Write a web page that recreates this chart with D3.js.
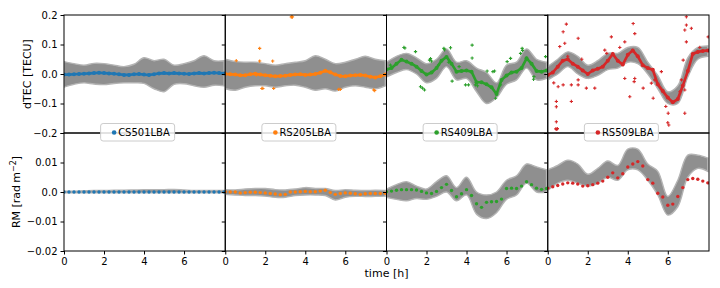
<!DOCTYPE html>
<html>
<head>
<meta charset="utf-8">
<script src="https://cdn.jsdelivr.net/npm/d3@7"></script>
<style>
  html, body { margin: 0; padding: 0; background: #fff; }
  svg { display: block; font-family: "DejaVu Sans", sans-serif; }
</style>
</head>
<body>
<div class="ChartWrapper"></div>
<script>
// stations, one column each
const stations = ['CS501LBA', 'RS205LBA', 'RS409LBA', 'RS509LBA'];
const colors = ['#1f77b4', '#ff7f0e', '#2ca02c', '#d62728'];

// time grids [h]
const trackHours = [0, 0.25, 0.5, 0.75, 1, 1.25, 1.5, 1.75, 2, 2.25, 2.5, 2.75, 3, 3.25, 3.5, 3.75, 4,
  4.25, 4.5, 4.75, 5, 5.25, 5.5, 5.75, 6, 6.25, 6.5, 6.75, 7, 7.25, 7.5, 7.75, 8];
const envHours = [0, 0.5, 1, 1.5, 2, 2.5, 3, 3.5, 4, 4.5, 5, 5.5, 6, 6.5, 7, 7.5, 8];

// dTEC solutions [TECU]
const dtecCS501 = [-0.002, -0.002, -0.001, 0.000, 0.001, 0.002, 0.003, 0.004, 0.003, 0.002, 0.001, -0.001, -0.003, -0.003, -0.001, 0.000, -0.002,
  -0.003, -0.001, 0.002, 0.003, 0.002, 0.003, 0.002, 0.001, 0.000, 0.002, 0.003, 0.002, 0.003, 0.004, 0.003, 0.002];
const dtecRS205 = [0.000, -0.001, -0.002, -0.004, -0.004, -0.001, 0.001, -0.002, -0.004, -0.006, -0.008, -0.007, -0.006, -0.003, -0.002, -0.001, -0.003,
  -0.002, 0.000, 0.004, 0.011, 0.006, -0.002, -0.007, -0.008, -0.005, -0.004, -0.003, -0.005, -0.009, -0.012, -0.008, -0.002];
const dtecRS409 = [0.015, 0.020, 0.035, 0.048, 0.042, 0.035, 0.025, 0.010, -0.002, 0.005, 0.020, 0.045, 0.058, 0.035, 0.008, 0.010, 0.012,
  0.008, -0.028, -0.028, -0.035, -0.045, -0.068, -0.020, -0.005, 0.005, 0.008, 0.020, 0.053, 0.035, 0.010, 0.008, 0.012];
const dtecRS509 = [-0.003, 0.005, 0.025, 0.045, 0.050, 0.035, 0.025, 0.012, 0.000, 0.012, 0.018, 0.025, 0.045, 0.068, 0.045, 0.032, 0.065,
  0.080, 0.060, 0.030, 0.020, 0.014, -0.035, -0.058, -0.080, -0.096, -0.085, -0.040, 0.010, 0.068, 0.075, 0.078, 0.080];

// RM solutions [rad m^-2]
const rmCS501 = [0.0000, 0.0000, 0.0000, 0.0000, 0.0000, 0.0000, 0.0000, 0.0000, 0.0000, 0.0000, 0.0000, 0.0000, 0.0000, 0.0000, 0.0000, 0.0000, 0.0000,
  0.0000, 0.0000, 0.0000, 0.0000, 0.0000, 0.0000, 0.0000, 0.0000, 0.0000, 0.0000, 0.0000, 0.0000, 0.0000, 0.0000, 0.0000, 0.0000];
const rmRS205 = [0.0001, 0.0000, 0.0000, -0.0003, -0.0002, -0.0001, -0.0001, -0.0002, -0.0003, -0.0005, -0.0007, -0.0009, -0.0008, 0.0000, 0.0000, 0.0001, 0.0002,
  0.0001, 0.0001, 0.0003, 0.0006, -0.0002, -0.0008, -0.0005, -0.0003, -0.0004, -0.0006, -0.0008, -0.0006, -0.0005, -0.0005, -0.0005, -0.0004];
const rmRS409 = [0.0001, 0.0003, 0.0006, 0.0008, 0.0008, 0.0008, 0.0007, 0.0002, -0.0003, -0.0005, 0.0002, 0.0015, 0.0026, 0.0005, -0.0016, -0.0006, 0.0008,
  -0.0012, -0.0040, -0.0052, -0.0035, -0.0033, -0.0032, -0.0024, 0.0012, 0.0013, 0.0012, 0.0020, 0.0035, 0.0025, 0.0013, 0.0009, 0.0012];
const rmRS509 = [0.0013, 0.0018, 0.0022, 0.0027, 0.0031, 0.0030, 0.0027, 0.0020, 0.0021, 0.0025, 0.0030, 0.0037, 0.0050, 0.0065, 0.0048, 0.0062, 0.0085,
  0.0095, 0.0103, 0.0088, 0.0042, 0.0030, -0.0004, -0.0017, -0.0045, -0.0041, -0.0015, 0.0015, 0.0042, 0.0046, 0.0043, 0.0037, 0.0031];

// spread of the grey realisations (upper / lower envelope)
const dtecHi = [
  [0.042, 0.035, 0.030, 0.036, 0.035, 0.030, 0.025, 0.033, 0.055, 0.045, 0.050, 0.030, 0.035, 0.045, 0.062, 0.045, 0.045],
  [0.050, 0.042, 0.040, 0.040, 0.035, 0.030, 0.035, 0.040, 0.045, 0.062, 0.050, 0.035, 0.040, 0.050, 0.060, 0.050, 0.045],
  [0.040, 0.060, 0.070, 0.055, 0.035, 0.050, 0.085, 0.040, 0.045, 0.020, 0.005, -0.030, 0.030, 0.040, 0.085, 0.050, 0.040],
  [0.025, 0.050, 0.075, 0.060, 0.030, 0.045, 0.070, 0.070, 0.090, 0.090, 0.040, -0.005, -0.060, -0.040, 0.055, 0.090, 0.095],
];
const dtecLo = [
  [-0.044, -0.035, -0.030, -0.034, -0.036, -0.032, -0.030, -0.030, -0.032, -0.050, -0.060, -0.035, -0.033, -0.040, -0.045, -0.038, -0.040],
  [-0.050, -0.055, -0.045, -0.040, -0.040, -0.045, -0.040, -0.038, -0.045, -0.055, -0.050, -0.058, -0.045, -0.040, -0.045, -0.050, -0.040],
  [-0.010, 0.005, 0.015, 0.000, -0.030, -0.015, 0.025, -0.020, -0.015, -0.060, -0.100, -0.080, -0.035, -0.020, 0.020, -0.020, -0.015],
  [-0.020, 0.000, 0.025, 0.000, -0.015, -0.005, 0.015, 0.020, 0.040, 0.035, 0.000, -0.050, -0.100, -0.100, -0.010, 0.050, 0.060],
];
const rmHi = [
  [0.0003, 0.0003, 0.0004, 0.0005, 0.0005, 0.0006, 0.0006, 0.0007, 0.0008, 0.0008, 0.0008, 0.0009, 0.0007, 0.0005, 0.0005, 0.0005, 0.0005],
  [0.0008, 0.0007, 0.0010, 0.0012, 0.0012, 0.0008, 0.0007, 0.0010, 0.0015, 0.0012, 0.0012, 0.0005, 0.0008, 0.0006, 0.0005, 0.0006, 0.0005],
  [0.0010, 0.0025, 0.0035, 0.0020, 0.0010, 0.0035, 0.0055, 0.0015, 0.0050, 0.0000, -0.0010, 0.0000, 0.0040, 0.0055, 0.0095, 0.0085, 0.0075],
  [0.0075, 0.0090, 0.0108, 0.0095, 0.0060, 0.0080, 0.0105, 0.0090, 0.0145, 0.0145, 0.0095, 0.0070, -0.0015, 0.0040, 0.0125, 0.0125, 0.0115],
];
const rmLo = [
  [-0.0003, -0.0003, -0.0003, -0.0003, -0.0003, -0.0003, -0.0003, -0.0003, -0.0003, -0.0003, -0.0003, -0.0003, -0.0003, -0.0003, -0.0003, -0.0003, -0.0003],
  [-0.0008, -0.0010, -0.0012, -0.0012, -0.0014, -0.0018, -0.0018, -0.0012, -0.0010, -0.0010, -0.0012, -0.0027, -0.0018, -0.0015, -0.0015, -0.0015, -0.0014],
  [-0.0018, -0.0025, -0.0030, -0.0022, -0.0025, -0.0015, 0.0000, -0.0030, -0.0010, -0.0075, -0.0090, -0.0070, -0.0025, -0.0010, 0.0030, 0.0000, 0.0000],
  [0.0005, 0.0030, 0.0040, 0.0030, 0.0020, 0.0030, 0.0050, 0.0040, 0.0075, 0.0075, 0.0040, -0.0010, -0.0078, -0.0050, 0.0050, 0.0080, 0.0070],
];

// dTEC outliers [hour, TECU]
const outRS205 = [[3.33, 0.195], [3.30, 0.193], [3.36, 0.193], [1.72, 0.087], [0.55, 0.045], [1.72, 0.044], [2.37, 0.044],
  [1.83, -0.049], [1.88, -0.049], [2.42, -0.049], [5.67, -0.052], [5.75, -0.052], [7.42, -0.054], [7.47, -0.056], [1.55, -0.004]];
const outRS409 = [[0.87, 0.090], [0.92, 0.088], [1.45, 0.076], [2.15, 0.047], [2.20, 0.052], [2.25, 0.044], [2.87, 0.087], [2.90, 0.082],
  [3.20, 0.089], [4.28, 0.098], [4.28, 0.054], [3.63, 0.025], [3.28, -0.024], [1.70, -0.043], [1.80, -0.048], [1.90, -0.054],
  [3.95, -0.037], [4.10, -0.037], [5.03, 0.010], [5.32, 0.008], [5.40, 0.010], [6.03, 0.042], [6.20, 0.053], [6.70, 0.070],
  [6.78, 0.087], [6.80, 0.080], [7.37, -0.009], [7.35, -0.018], [7.95, 0.059], [5.70, -0.037], [4.45, -0.037], [4.55, -0.040],
  [5.45, -0.082], [2.60, 0.030], [0.20, 0.030], [3.10, 0.040]];
const outRS509 = [[0.93, 0.169], [0.77, 0.143], [0.85, 0.104], [0.60, 0.093], [1.52, 0.121], [4.27, 0.171], [4.35, 0.137],
  [3.18, 0.126], [3.85, 0.109], [0.43, -0.093], [0.43, -0.111], [0.43, -0.162], [0.40, -0.186], [0.45, -0.188], [0.48, -0.185],
  [0.52, -0.043], [0.77, -0.037], [1.18, -0.037], [1.18, -0.093], [1.52, -0.037], [1.93, -0.048], [2.35, -0.048], [1.52, -0.020],
  [3.85, -0.015], [4.35, -0.015], [4.32, -0.026], [4.10, -0.077], [4.77, -0.048], [5.18, -0.031], [5.27, -0.082], [5.35, -0.020],
  [5.68, 0.008], [6.02, -0.133], [6.00, -0.165], [6.05, -0.173], [6.85, -0.133], [6.93, 0.194], [6.93, 0.166], [6.85, 0.149],
  [6.93, 0.109], [7.18, 0.155], [6.77, 0.047], [6.68, -0.020], [6.85, -0.054], [8.02, 0.126], [2.85, 0.081], [2.95, 0.070],
  [0.30, -0.030], [1.00, 0.060], [3.60, 0.090], [5.90, -0.110], [6.60, -0.060], [7.60, 0.090], [1.70, 0.050]];

const dtecTracks = [dtecCS501, dtecRS205, dtecRS409, dtecRS509];
const rmTracks = [rmCS501, rmRS205, rmRS409, rmRS509];
const dtecOutliers = [[], outRS205, outRS409, outRS509];

const dtecTicks = [-0.2, -0.1, 0.0, 0.1, 0.2];
const rmTicks = [-0.02, -0.01, 0.0, 0.01, 0.02];
const hourTicks = [0, 2, 4, 6];

const CHART = {
  width: 720,
  height: 288,
  left: 64,
  top: 15,
  panelW: 161.25,
  rowH: 118,
  xMax: 8.06,
  grey: '#868686',
};

const svg = d3.select('.ChartWrapper')
  .append('svg')
  .attr('width', CHART.width)
  .attr('height', CHART.height);

const yTop = d3.scaleLinear().domain([-0.2, 0.2]).range([CHART.top + CHART.rowH, CHART.top]);
const yBot = d3.scaleLinear().domain([-0.02, 0.02]).range([CHART.top + 2 * CHART.rowH, CHART.top + CHART.rowH]);

const rows = [
  { y: yTop, tracks: dtecTracks, hi: dtecHi, lo: dtecLo, ticks: dtecTicks, line: true },
  { y: yBot, tracks: rmTracks, hi: rmHi, lo: rmLo, ticks: rmTicks, line: false },
];

const defs = svg.append('defs');
const fmtTop = v => (v === 0 ? '0.0' : d3.format('.1f')(v));
const fmtBot = v => (v === 0 ? '0.0' : d3.format('.2f')(v));

rows.forEach((row, r) => {
  stations.forEach((name, c) => {
    const x0 = CHART.left + c * CHART.panelW;
    const x = d3.scaleLinear().domain([0, CHART.xMax]).range([x0, x0 + CHART.panelW]);
    const y = row.y;
    const clipId = `clip-${r}-${c}`;
    defs.append('clipPath').attr('id', clipId)
      .append('rect')
      .attr('x', x0).attr('y', y.range()[1])
      .attr('width', CHART.panelW).attr('height', CHART.rowH);

    const g = svg.append('g').attr('clip-path', `url(#${clipId})`);

    // grey realisations
    const area = d3.area()
      .x((d, i) => x(envHours[i]))
      .y0(d => y(d[0]))
      .y1(d => y(d[1]))
      .curve(d3.curveCatmullRom.alpha(0.5));
    g.append('path')
      .datum(row.lo[c].map((v, i) => [v, row.hi[c][i]]))
      .attr('d', area)
      .attr('fill', CHART.grey)
      .attr('fill-opacity', 0.92)
      .attr('stroke', '#b4b4b4')
      .attr('stroke-width', 1.4);

    const track = row.tracks[c];
    if (row.line) {
      g.append('path')
        .datum(track)
        .attr('d', d3.line().x((d, i) => x(trackHours[i])).y(d => y(d)))
        .attr('fill', 'none')
        .attr('stroke', colors[c])
        .attr('stroke-width', 2.6);
    }
    g.selectAll('circle.pt')
      .data(track)
      .enter()
      .append('circle')
      .classed('pt', true)
      .attr('cx', (d, i) => x(trackHours[i]))
      .attr('cy', d => y(d))
      .attr('r', row.line ? 2 : 1.7)
      .attr('fill', colors[c]);

    if (r === 0) {
      g.selectAll('path.out')
        .data(dtecOutliers[c])
        .enter()
        .append('path')
        .classed('out', true)
        .attr('d', d3.symbol(d3.symbolCross).size(6))
        .attr('transform', d => `translate(${x(d[0])},${y(d[1])})`)
        .attr('fill', colors[c]);
    }

    // frame
    svg.append('rect')
      .attr('x', x0).attr('y', y.range()[1])
      .attr('width', CHART.panelW).attr('height', CHART.rowH)
      .attr('fill', 'none')
      .attr('stroke', '#000')
      .attr('stroke-width', 1);

    // y ticks on every panel, labels only on the first column
    const yAxis = d3.axisLeft(y)
      .tickValues(row.ticks)
      .tickSizeInner(3.5)
      .tickSizeOuter(0)
      .tickPadding(3)
      .tickFormat(c === 0 ? (r === 0 ? fmtTop : fmtBot) : () => '');
    const ya = svg.append('g')
      .attr('transform', `translate(${x0},0)`)
      .call(yAxis);
    ya.select('.domain').remove();
    ya.selectAll('text').attr('font-size', 10).attr('font-family', '"DejaVu Sans"').attr('fill', '#000');
    if (r === 1 && c === 0) ya.selectAll('.tick text').filter(d => d === 0.02).remove();

    if (r === 1) {
      const xa = svg.append('g')
        .attr('transform', `translate(0,${y.range()[0]})`)
        .call(d3.axisBottom(x).tickValues(hourTicks).tickSizeInner(3.5).tickSizeOuter(0).tickPadding(3).tickFormat(d3.format('d')));
      xa.select('.domain').remove();
      xa.selectAll('text').attr('font-size', 10).attr('font-family', '"DejaVu Sans"').attr('fill', '#000');
    }
  });
});

// legends, one per column, sitting on the row boundary
stations.forEach((name, c) => {
  const x0 = CHART.left + c * CHART.panelW;
  const bx = x0 + CHART.panelW / 2 - 44;
  const lg = svg.append('g').attr('transform', `translate(${bx},123.5)`);
  lg.append('rect')
    .attr('width', 74).attr('height', 17.5)
    .attr('rx', 2.5)
    .attr('fill', '#fff').attr('fill-opacity', 0.85)
    .attr('stroke', '#cccccc').attr('stroke-width', 1);
  lg.append('circle').attr('cx', 13.5).attr('cy', 9).attr('r', 2.3).attr('fill', colors[c]);
  lg.append('text')
    .attr('x', 17.5).attr('y', 12.8)
    .attr('font-size', 10)
    .attr('fill', '#000')
    .text(name);
});

// axis labels
svg.append('text')
  .attr('transform', `translate(31,${yTop(0)}) rotate(-90)`)
  .attr('text-anchor', 'middle')
  .attr('font-size', 11)
  .text('dTEC [TECU]');

const rmLabel = svg.append('text')
  .attr('transform', `translate(20,${yBot(0)}) rotate(-90)`)
  .attr('text-anchor', 'middle')
  .attr('font-size', 11);
rmLabel.append('tspan').text('RM [rad\u2009m');
rmLabel.append('tspan').attr('dy', -4).attr('font-size', 8).text('\u22122');
rmLabel.append('tspan').attr('dy', 4).text(']');

svg.append('text')
  .attr('x', CHART.left + 2 * CHART.panelW)
  .attr('y', 277)
  .attr('text-anchor', 'middle')
  .attr('font-size', 11)
  .text('time [h]');
</script>
</body>
</html>
